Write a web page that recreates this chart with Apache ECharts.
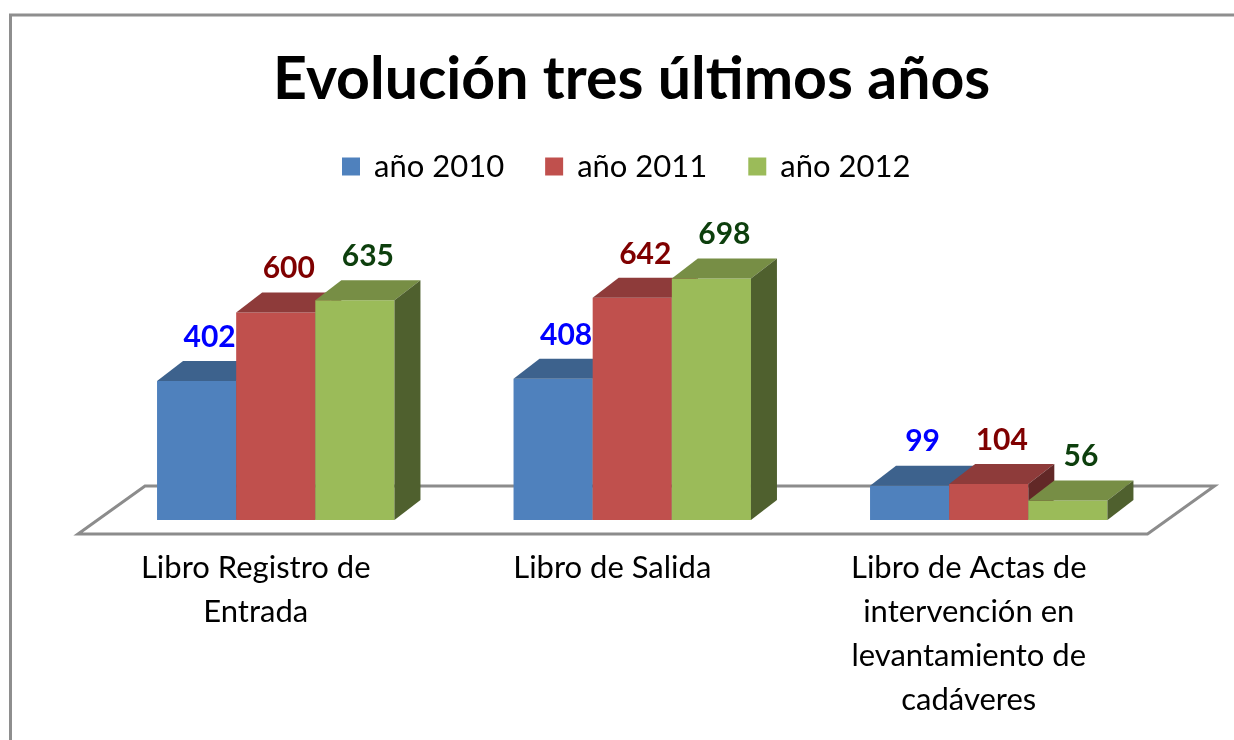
<!DOCTYPE html>
<html>
<head>
<meta charset="utf-8">
<script src="https://cdn.jsdelivr.net/npm/echarts@6/dist/echarts.min.js"></script>
<style>
  html, body { margin: 0; padding: 0; background: #fff; }
  #chart1 { width: 1234px; height: 740px; }
</style>
</head>
<body>
<div id="chart1"></div>
<script>
const categories = ['Libro Registro de\nEntrada', 'Libro de Salida', 'Libro de Actas de\nintervención en\nlevantamiento de\ncadáveres'];
const seriesNames = ['año 2010', 'año 2011', 'año 2012'];
const values2010 = [402, 408, 99];
const values2011 = [600, 642, 104];
const values2012 = [635, 698, 56];

const frontColors = ['#4F81BD', '#C0504D', '#9BBB59'];
const topColors = ['#3D628D', '#8E3B3A', '#778E45'];
const sideColors = ['#2F4C6E', '#622827', '#4F602E'];
const labelColors = ['#0000FF', '#7F0000', '#0D3F0D'];

const FONT = 'Lato, "Open Sans", sans-serif';
const DX = 26, DY = 20; // bar depth

const renderBar = (s) => (params, api) => {
  const idx = api.value(0);
  const val = api.value(1);
  const base = api.coord([idx, 0]);
  const top = api.coord([idx, val]);
  const band = api.size([1, 0])[0];
  const w = band * 0.222;
  const x0 = base[0] - 1.5 * w + s * w;
  const x1 = x0 + w;
  const yb = base[1], yt = top[1];
  return {
    type: 'group',
    children: [
      { type: 'rect', shape: { x: x0, y: yt, width: w, height: yb - yt }, style: { fill: frontColors[s] } },
      { type: 'polygon', shape: { points: [[x0, yt], [x0 + DX, yt - DY], [x1 + DX, yt - DY], [x1, yt]] }, style: { fill: topColors[s] } },
      { type: 'polygon', shape: { points: [[x1, yt], [x1 + DX, yt - DY], [x1 + DX, yb - DY], [x1, yb]] }, style: { fill: sideColors[s] } },
      {
        type: 'text',
        x: x0 + w / 2 + 13, y: yt - DY - 9,
        style: { text: String(val), fill: labelColors[s], font: 'bold 30px ' + FONT, textAlign: 'center', textVerticalAlign: 'bottom' }
      }
    ]
  };
};

const renderFloor = (params, api) => {
  const cs = params.coordSys;
  const yb = cs.y + cs.height;
  const fy = yb + 14, by = yb - 34;
  const fx = 19.5, bx = 47.5;
  return {
    type: 'polygon',
    shape: { points: [[cs.x - fx, fy], [cs.x + cs.width - fx, fy], [cs.x + cs.width + bx, by], [cs.x + bx, by]] },
    style: { fill: '#fff', stroke: '#8C8C8C', lineWidth: 3 }
  };
};

const getOption = () => {
  const allValues = [values2010, values2011, values2012];
  const series = [{
    type: 'custom',
    name: 'floor',
    silent: true,
    renderItem: renderFloor,
    data: [[0, 0]],
    z: 1
  }];
  seriesNames.forEach((name, s) => {
    series.push({
      type: 'custom',
      name: name,
      itemStyle: { color: frontColors[s] },
      renderItem: renderBar(s),
      encode: { x: 0, y: 1 },
      data: allValues[s].map((v, i) => [i, v]),
      z: 2 + s
    });
  });
  return {
    animation: false,
    backgroundColor: '#fff',
    title: {
      text: 'Evolución tres últimos años',
      left: 268,
      top: 45,
      textStyle: { fontFamily: FONT, fontWeight: 'bold', fontSize: 59, color: '#000' }
    },
    legend: {
      data: seriesNames,
      top: 146,
      left: 337,
      icon: 'rect',
      itemWidth: 18,
      itemHeight: 18,
      itemGap: 41,
      textStyle: { fontFamily: FONT, fontSize: 31, color: '#000', padding: [0, 0, 0, 9] }
    },
    grid: { left: 97.5, right: 67, top: 243.2, bottom: 220 },
    xAxis: {
      type: 'category',
      data: categories,
      axisLine: { show: false },
      axisTick: { show: false },
      axisLabel: {
        interval: 0,
        margin: 26,
        fontFamily: FONT,
        fontSize: 31,
        lineHeight: 44,
        color: '#000',
        padding: [0, 40, 0, 0]
      }
    },
    yAxis: {
      type: 'value',
      min: 0,
      max: 800,
      show: false,
      splitLine: { show: false }
    },
    graphic: [{
      type: 'polyline',
      shape: { points: [[10.5, 740], [10.5, 15], [1234, 15]] },
      style: { stroke: '#8E8E8E', lineWidth: 3, fill: null }
    }],
    series: series
  };
};

const initChart = () => {
  const chart1 = echarts.init(document.getElementById('chart1'));
  chart1.setOption(getOption());
};

window.addEventListener('load', function() {
  initChart();
});
</script>
</body>
</html>
